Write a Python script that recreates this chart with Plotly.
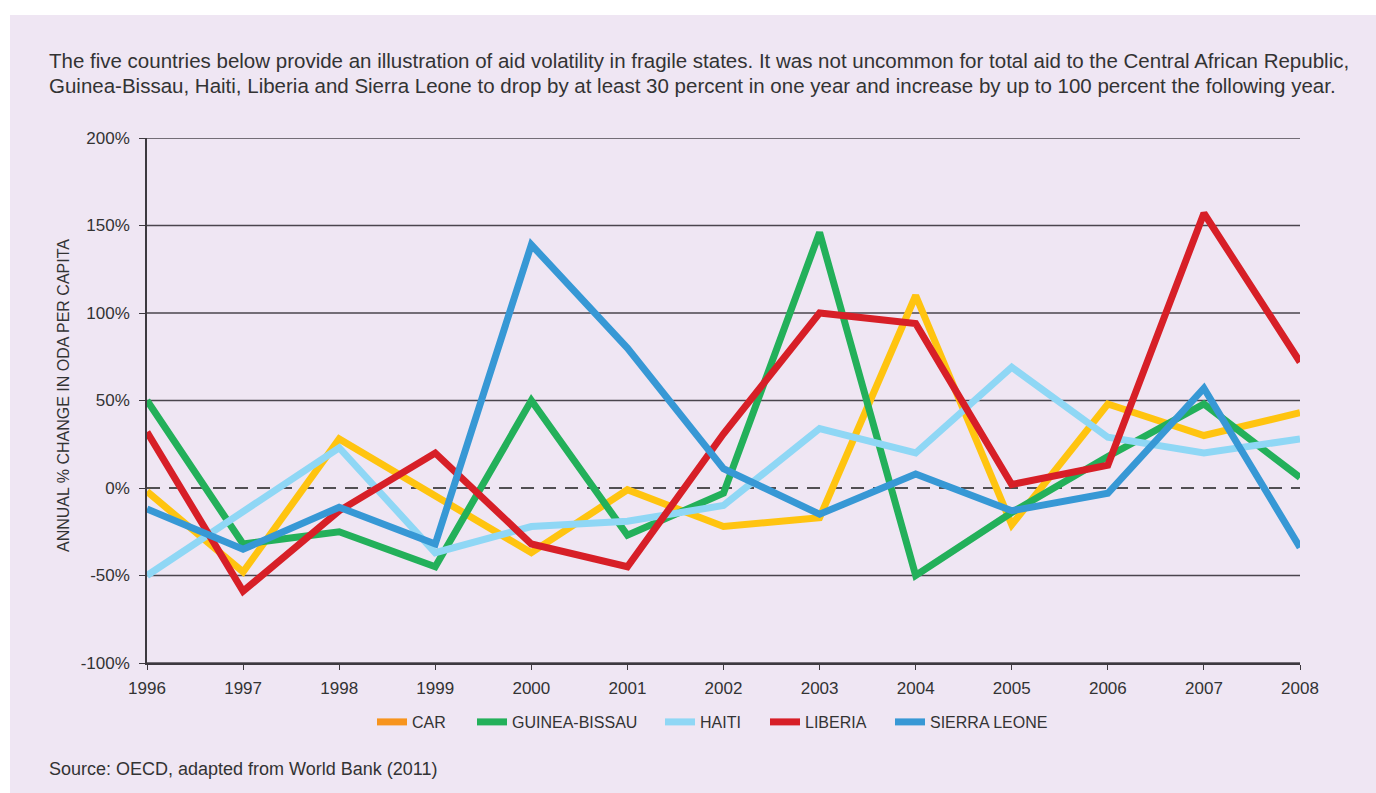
import plotly.graph_objects as go

years = list(range(1996, 2009))
car = [-2, -48, 28, -4, -37, -1, -22, -17, 110, -21, 48, 30, 43]
guinea_bissau = [50, -32, -25, -45, 50, -27, -3, 146, -50, -14, 18, 48, 6]
haiti = [-50, -14, 23, -37, -22, -19, -10, 34, 20, 69, 29, 20, 28]
liberia = [32, -59, -13, 20, -32, -45, 31, 100, 94, 2, 13, 157, 72]
sierra_leone = [-12, -35, -11, -32, 139, 80, 11, -15, 8, -13, -3, 57, -34]

ytick_vals = [-100, -50, 0, 50, 100, 150, 200]
ytick_text = ["-100%", "-50%", "0%", "50%", "100%", "150%", "200%"]

series = [
    ("CAR", car, "#FFC410", "#F7941D"),
    ("GUINEA-BISSAU", guinea_bissau, "#23B05A", "#23B05A"),
    ("HAITI", haiti, "#8FD7F5", "#8FD7F5"),
    ("LIBERIA", liberia, "#D71F27", "#D71F27"),
    ("SIERRA LEONE", sierra_leone, "#3798D5", "#3798D5"),
]
legend_text_x = [412, 512, 700, 805, 930]  # screenshot px where legend labels start

BG = "#EFE6F3"
TXT = "#333333"
FONT = "Liberation Sans, Arial, sans-serif"

W, H = 1376, 793
PL, PR, PT, PB = 147, 1300, 138, 663  # plot area in px


def px_x(px):
    return (px - PL) / (PR - PL)


def px_y(py):
    return (PB - py) / (PB - PT)


fig = go.Figure()
for name, vals, col, lcol in series:
    fig.add_trace(go.Scatter(x=years, y=vals, mode="lines", name=name,
                             line=dict(color=col, width=7), showlegend=False,
                             hoverinfo="x+y+name"))

legend_layouts = {}
for i, ((name, vals, col, lcol), tx) in enumerate(zip(series, legend_text_x)):
    lname = "legend" if i == 0 else f"legend{i + 1}"
    fig.add_trace(go.Scatter(x=[None], y=[None], mode="lines", name=name,
                             line=dict(color=lcol, width=7), showlegend=True,
                             legend=lname))
    legend_layouts[lname] = dict(
        orientation="h", x=px_x(tx - 40), xanchor="left",
        y=px_y(722), yanchor="middle", bgcolor="rgba(0,0,0,0)",
        font=dict(size=16, color=TXT), itemwidth=30, borderwidth=0)

for v in ytick_vals:
    if v == 0:
        fig.add_shape(type="line", xref="paper", x0=0, x1=1, yref="y", y0=0, y1=0,
                      line=dict(color="#1E1E1E", width=1.4, dash="13px,9px"), layer="below")
    else:
        fig.add_shape(type="line", xref="paper", x0=0, x1=1, yref="y", y0=v, y1=v,
                      line=dict(color="#4A454D", width=1.5), layer="below")

# white border strips (left and top) around the lavender panel
fig.add_shape(type="rect", xref="paper", yref="paper",
              x0=px_x(-10), x1=px_x(10), y0=px_y(H + 10), y1=px_y(-10),
              fillcolor="white", line=dict(width=0), layer="below")
fig.add_shape(type="rect", xref="paper", yref="paper",
              x0=px_x(-10), x1=px_x(W + 10), y0=px_y(15), y1=px_y(-10),
              fillcolor="white", line=dict(width=0), layer="below")

fig.update_layout(
    width=W, height=H,
    margin=dict(l=PL, r=W - PR, t=PT, b=H - PB),
    paper_bgcolor=BG, plot_bgcolor="rgba(0,0,0,0)",
    font=dict(family=FONT, color=TXT, size=16),
    showlegend=True,
    xaxis=dict(range=[1996, 2008], tickvals=years, ticktext=[str(y) for y in years],
               showgrid=False, zeroline=False, showline=True, linecolor="#3D393F",
               linewidth=1.5, ticks="outside", ticklen=5, tickcolor="#3D393F",
               tickfont=dict(size=17, color=TXT), ticklabelstandoff=4, fixedrange=True),
    yaxis=dict(range=[-100, 200], tickvals=ytick_vals, ticktext=ytick_text,
               showgrid=False, zeroline=False, showline=True, linecolor="#3D393F",
               linewidth=1.5, ticks="outside", ticklen=6, tickcolor="#3D393F",
               tickfont=dict(size=17, color=TXT), ticklabelstandoff=6, fixedrange=True),
    **legend_layouts,
)

fig.add_annotation(text="The five countries below provide an illustration of aid volatility in fragile states. It was not uncommon for total aid to the Central African Republic,",
                   xref="paper", yref="paper", x=px_x(47), y=px_y(61), xanchor="left", yanchor="middle",
                   showarrow=False, font=dict(size=20.5, color=TXT))
fig.add_annotation(text="Guinea-Bissau, Haiti, Liberia and Sierra Leone to drop by at least 30 percent in one year and increase by up to 100 percent the following year.",
                   xref="paper", yref="paper", x=px_x(47), y=px_y(85), xanchor="left", yanchor="middle",
                   showarrow=False, font=dict(size=20.5, color=TXT))
fig.add_annotation(text="ANNUAL % CHANGE IN ODA PER CAPITA", textangle=-90,
                   xref="paper", yref="paper", x=px_x(63), y=px_y(396), xanchor="center", yanchor="middle",
                   showarrow=False, font=dict(size=16, color=TXT))
fig.add_annotation(text="Source: OECD, adapted from World Bank (2011)",
                   xref="paper", yref="paper", x=px_x(47), y=px_y(769), xanchor="left", yanchor="middle",
                   showarrow=False, font=dict(size=18, color=TXT))

fig.write_html("out.html", config={"displayModeBar": False},
               post_script="document.body.style.margin='0';document.body.style.overflow='hidden';"
                           "document.documentElement.style.background='" + BG + "';"
                           "document.body.style.background='" + BG + "';")
